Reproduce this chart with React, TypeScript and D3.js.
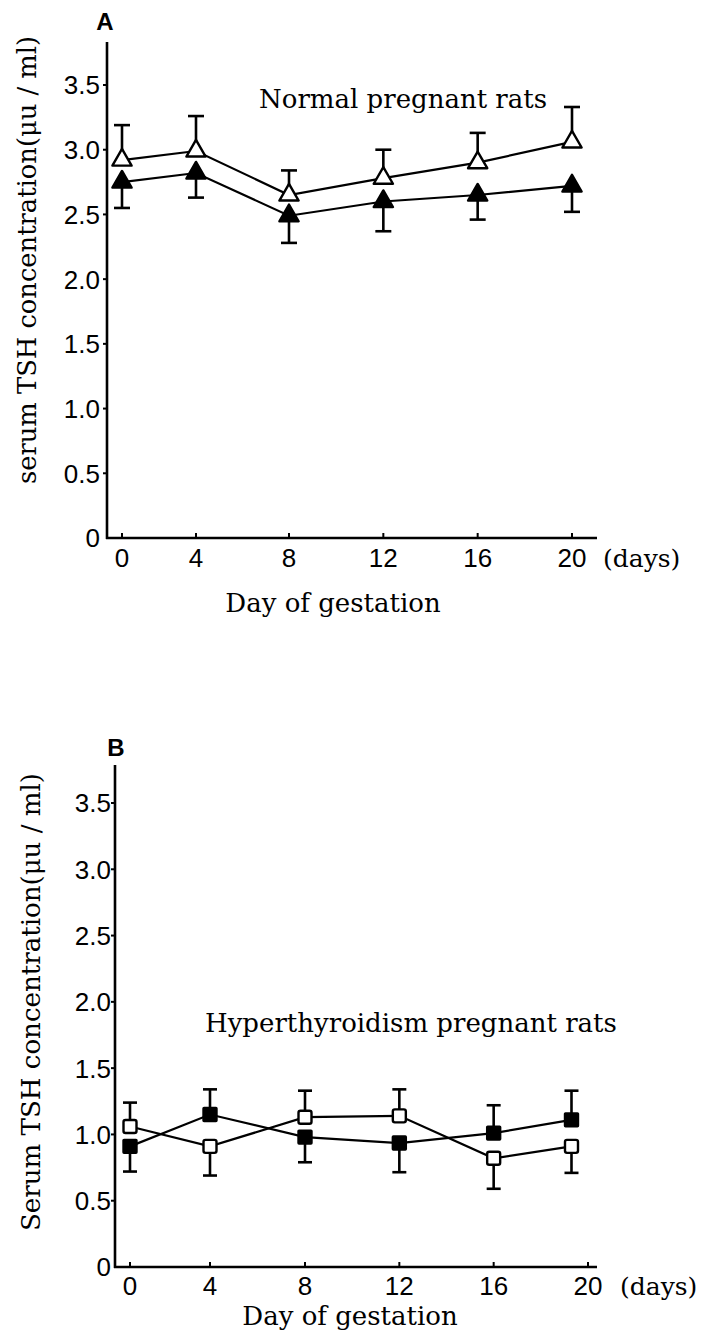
import React from "react";
import * as d3 from "d3";

// ---- Data ----
const yTicks = [0, 0.5, 1.0, 1.5, 2.0, 2.5, 3.0, 3.5];
const xTicks = [0, 4, 8, 12, 16, 20];

// Panel A: normal pregnant rats
const daysA = [0, 4, 8, 12, 16, 20];
const normalOpen = [2.92, 2.99, 2.65, 2.78, 2.9, 3.06];
const normalOpenErr = [0.27, 0.27, 0.19, 0.22, 0.23, 0.27];
const normalFilled = [2.75, 2.82, 2.49, 2.6, 2.65, 2.72];
const normalFilledErr = [0.2, 0.19, 0.21, 0.23, 0.19, 0.2];

// Panel B: hyperthyroidism pregnant rats
const daysB = [0, 4, 8, 12, 16, 19.3];
const hyperFilled = [0.91, 1.15, 0.98, 0.935, 1.01, 1.11];
const hyperFilledErr = [0.19, 0.19, 0.19, 0.22, 0.21, 0.22];
const hyperOpen = [1.06, 0.91, 1.13, 1.14, 0.82, 0.91];
const hyperOpenErr = [0.18, 0.22, 0.2, 0.2, 0.23, 0.2];

const SERIF = "'DejaVu Serif', serif";
const SANS = "'Liberation Sans', Arial, sans-serif";

type Series = {
  values: number[];
  errs: number[];
  other: number[];
  filled: boolean;
  shape: "triangle" | "square";
};

type PanelProps = {
  letter: string;
  axisX: number;
  axisTop: number;
  y0: number;
  y35: number;
  xDomain: number[];
  xRange: number[];
  axisRight: number;
  days: number[];
  series: Series[];
  capW: number;
  annotation: string;
  annX: number;
  annY: number;
  yLabel: string;
  yLabelX: number;
  yLabelY: number;
  yLabelLen: number;
  tickLabelRight: number;
  xLabelY: number;
  daysX: number;
  titleX: number;
  titleY: number;
  gestX: number;
  gestY: number;
};

function Panel(p: PanelProps) {
  const y = d3.scaleLinear().domain([0, 3.5]).range([p.y0, p.y35]);
  const x = d3.scaleLinear().domain(p.xDomain).range(p.xRange);

  const marker = (s: Series, cx: number, cy: number, key: string) => {
    const fill = s.filled ? "#000" : "#fff";
    if (s.shape === "triangle") {
      const sym = d3.symbol().type(d3.symbolTriangle).size(160)();
      return (
        <path
          key={key}
          d={sym || ""}
          transform={`translate(${cx},${cy})`}
          fill={fill}
          stroke="#000"
          strokeWidth={2.4}
          strokeLinejoin="round"
        />
      );
    }
    const sz = 13;
    return (
      <rect
        key={key}
        x={cx - sz / 2}
        y={cy - sz / 2}
        width={sz}
        height={sz}
        rx={s.filled ? 0.5 : 2}
        fill={fill}
        stroke="#000"
        strokeWidth={2.4}
      />
    );
  };

  const line = d3
    .line<number>()
    .x((_, i) => x(p.days[i]))
    .y((v) => y(v));

  return (
    <g>
      <text x={p.titleX} y={p.titleY} fontFamily={SANS} fontWeight="bold" fontSize={24} textAnchor="middle">
        {p.letter}
      </text>
      {/* axes */}
      <line x1={p.axisX} x2={p.axisX} y1={p.axisTop} y2={p.y0 + 1} stroke="#000" strokeWidth={2.6} />
      <line x1={p.axisX - 1} x2={p.axisRight} y1={p.y0} y2={p.y0} stroke="#000" strokeWidth={2.6} />
      {yTicks.map((t) => (
        <g key={"yt" + t}>
          {t > 0 && <line x1={p.axisX - 4} x2={p.axisX} y1={y(t)} y2={y(t)} stroke="#000" strokeWidth={2} />}
          <text
            x={p.tickLabelRight}
            y={y(t)}
            dy="0.36em"
            textAnchor="end"
            fontFamily={SANS}
            fontSize={26}
          >
            {t === 0 ? "0" : d3.format(".1f")(t)}
          </text>
        </g>
      ))}
      {xTicks.map((t) => (
        <g key={"xt" + t}>
          <line x1={x(t)} x2={x(t)} y1={p.y0} y2={p.y0 - 5} stroke="#000" strokeWidth={2} />
          <text x={x(t)} y={p.xLabelY} textAnchor="middle" fontFamily={SANS} fontSize={26}>
            {t}
          </text>
        </g>
      ))}
      <text x={p.daysX} y={p.xLabelY} fontFamily={SERIF} fontSize={25}>
        (days)
      </text>
      <text x={p.gestX} y={p.gestY} textAnchor="middle" fontFamily={SERIF} fontSize={26}>
        Day of gestation
      </text>
      <text
        transform={`translate(${p.yLabelX},${p.yLabelY}) rotate(-90)`}
        textAnchor="middle"
        fontFamily={SERIF}
        fontSize={26}
        textLength={p.yLabelLen}
        lengthAdjust="spacingAndGlyphs"
      >
        {p.yLabel}
      </text>
      <text x={p.annX} y={p.annY} fontFamily={SERIF} fontSize={26}>
        {p.annotation}
      </text>

      {/* lines */}
      {p.series.map((s, si) => (
        <path key={"l" + si} d={line(s.values) || ""} fill="none" stroke="#000" strokeWidth={2.2} />
      ))}
      {/* error bars */}
      {p.series.map((s, si) =>
        s.values.map((v, i) => {
          const up = v >= s.other[i];
          const end = up ? v + s.errs[i] : v - s.errs[i];
          const cx = x(p.days[i]);
          return (
            <g key={"e" + si + "-" + i}>
              <line x1={cx} x2={cx} y1={y(v)} y2={y(end)} stroke="#000" strokeWidth={2.6} />
              <line
                x1={cx - p.capW / 2}
                x2={cx + p.capW / 2}
                y1={y(end)}
                y2={y(end)}
                stroke="#000"
                strokeWidth={2.6}
              />
            </g>
          );
        })
      )}
      {/* markers */}
      {p.series.map((s, si) => s.values.map((v, i) => marker(s, x(p.days[i]), y(v), "m" + si + "-" + i)))}
    </g>
  );
}

export default function App() {
  return (
    <svg
      width={701}
      height={1336}
      style={{ position: "absolute", left: 0, top: 0, background: "#fff" }}
    >
      <rect width={701} height={1336} fill="#fff" />
      <Panel
        letter="A"
        axisX={107}
        axisTop={42}
        y0={538}
        y35={85}
        xDomain={[0, 4, 8, 20]}
        xRange={[122, 196, 289, 572]}
        axisRight={597}
        days={daysA}
        series={[
          { values: normalOpen, errs: normalOpenErr, other: normalFilled, filled: false, shape: "triangle" },
          { values: normalFilled, errs: normalFilledErr, other: normalOpen, filled: true, shape: "triangle" },
        ]}
        capW={16}
        annotation="Normal pregnant rats"
        annX={259}
        annY={108}
        yLabel="serum TSH concentration(μu / ml)"
        yLabelX={36}
        yLabelY={260}
        yLabelLen={448}
        tickLabelRight={100}
        xLabelY={567}
        daysX={603}
        titleX={105}
        titleY={30}
        gestX={333}
        gestY={612}
      />
      <Panel
        letter="B"
        axisX={115}
        axisTop={765}
        y0={1267}
        y35={803}
        xDomain={[0, 4, 8, 20]}
        xRange={[130, 210, 305, 588]}
        axisRight={597}
        days={daysB}
        series={[
          { values: hyperOpen, errs: hyperOpenErr, other: hyperFilled, filled: false, shape: "square" },
          { values: hyperFilled, errs: hyperFilledErr, other: hyperOpen, filled: true, shape: "square" },
        ]}
        capW={14}
        annotation="Hyperthyroidism pregnant rats"
        annX={205}
        annY={1032}
        yLabel="Serum TSH concentration(μu / ml)"
        yLabelX={40}
        yLabelY={1002}
        yLabelLen={458}
        tickLabelRight={111}
        xLabelY={1295}
        daysX={620}
        titleX={116}
        titleY={756}
        gestX={350}
        gestY={1325}
      />
    </svg>
  );
}
